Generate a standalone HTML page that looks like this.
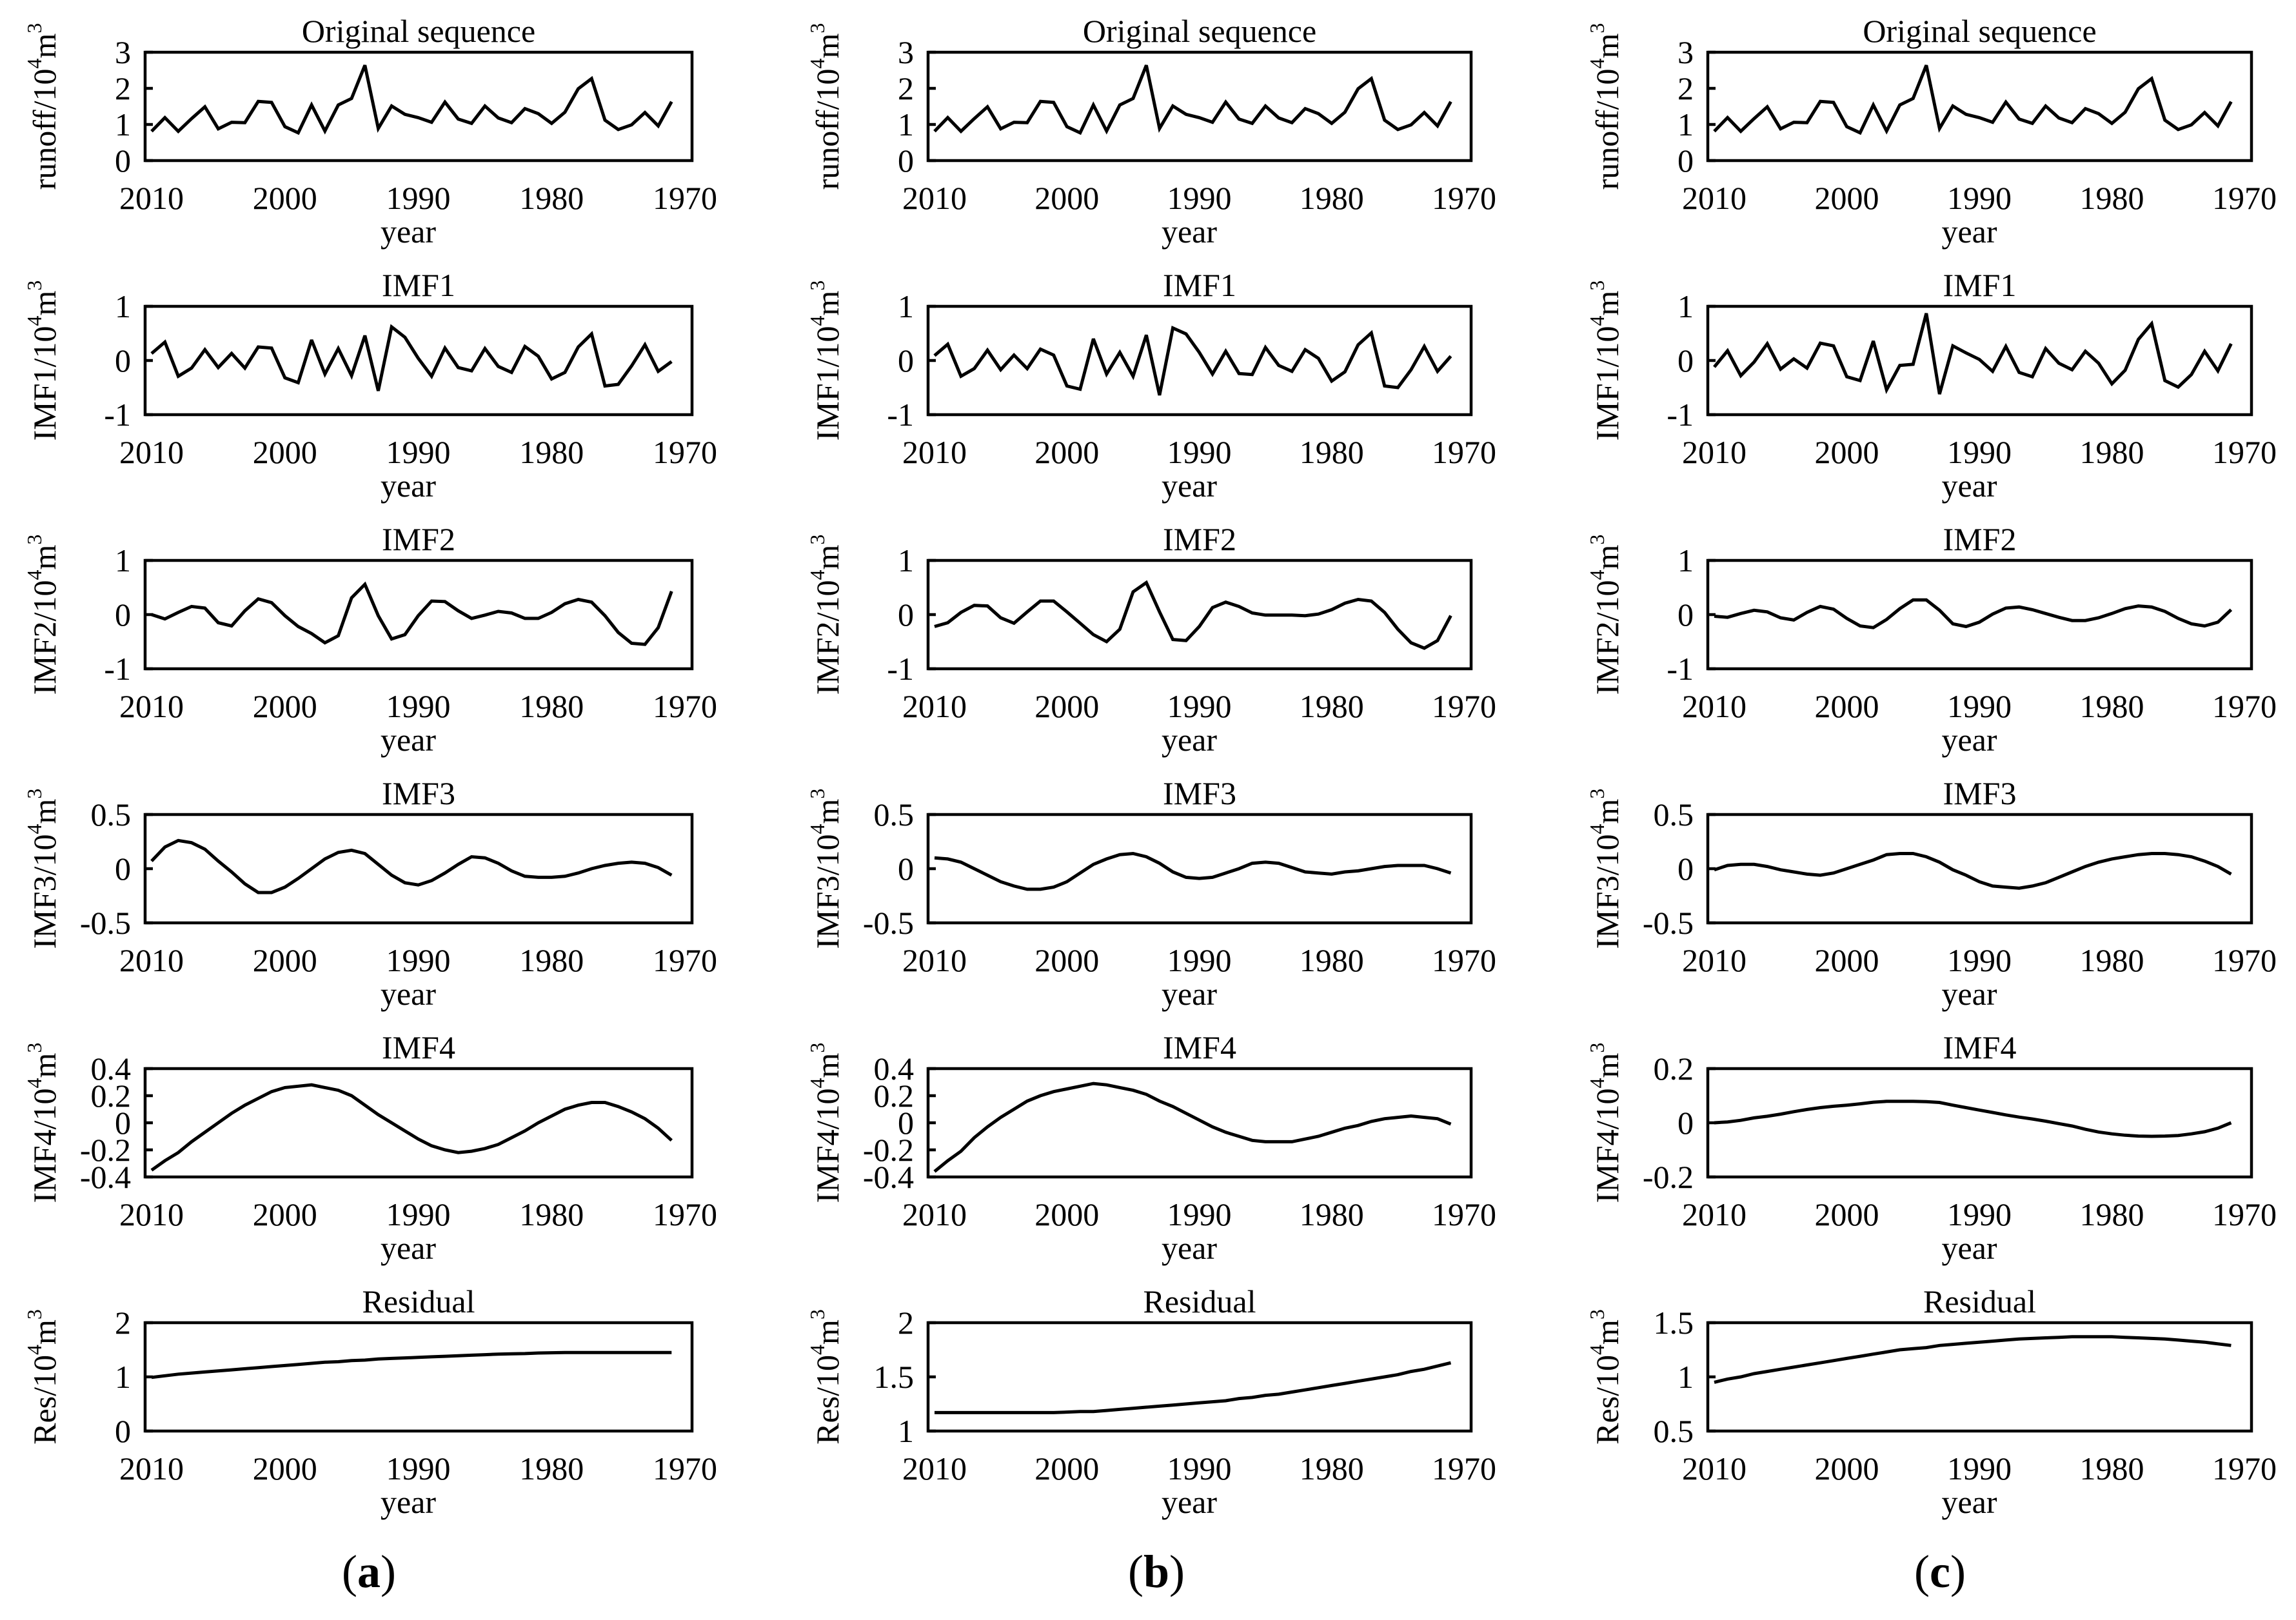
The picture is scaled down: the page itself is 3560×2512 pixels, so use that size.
<!DOCTYPE html>
<html><head><meta charset="utf-8"><title>EMD decomposition</title>
<style>
html,body{margin:0;padding:0;background:#fff;}
svg{display:block;}
svg text{font-family:"Liberation Serif","DejaVu Serif",serif;fill:#000;}
</style></head>
<body>
<svg id="fig" width="3560" height="2512" viewBox="0 0 3560 2512" xmlns="http://www.w3.org/2000/svg" font-family="Liberation Serif, serif"></svg>
<script>
const years = [];
for (let y = 2010; y >= 1971; y--) years.push(y);
const xTickLabels = ["2010","2000","1990","1980","1970"];
const panelTitles = ["Original sequence","IMF1","IMF2","IMF3","IMF4","Residual"];
const yLabelPrefixes = ["runoff","IMF1","IMF2","IMF3","IMF4","Res"];
const columnLabels = ["a","b","c"];

const original = [0.81,1.19,0.81,1.16,1.49,0.88,1.06,1.05,1.64,1.61,0.94,0.77,1.54,0.82,1.54,1.72,2.64,0.89,1.51,1.28,1.19,1.06,1.62,1.15,1.03,1.51,1.18,1.05,1.44,1.30,1.03,1.34,1.99,2.27,1.12,0.86,0.99,1.33,0.96,1.63];

const imf1A = [0.13,0.34,-0.29,-0.14,0.20,-0.13,0.13,-0.14,0.25,0.23,-0.32,-0.41,0.38,-0.25,0.22,-0.28,0.46,-0.56,0.62,0.43,0.04,-0.29,0.23,-0.13,-0.19,0.22,-0.11,-0.22,0.26,0.08,-0.34,-0.22,0.25,0.49,-0.47,-0.44,-0.10,0.29,-0.20,-0.02];
const imf2A = [0,-0.08,0.04,0.15,0.12,-0.15,-0.21,0.07,0.29,0.22,-0.02,-0.22,-0.35,-0.52,-0.39,0.31,0.56,-0.02,-0.45,-0.37,-0.02,0.25,0.24,0.07,-0.07,-0.01,0.06,0.03,-0.07,-0.07,0.04,0.20,0.28,0.23,-0.02,-0.33,-0.53,-0.55,-0.24,0.43];
const imf3A = [0.07,0.20,0.26,0.24,0.18,0.07,-0.03,-0.14,-0.22,-0.22,-0.17,-0.09,0.0,0.09,0.15,0.17,0.14,0.04,-0.06,-0.13,-0.15,-0.11,-0.04,0.04,0.11,0.10,0.05,-0.02,-0.07,-0.08,-0.08,-0.07,-0.04,0.0,0.03,0.05,0.06,0.05,0.01,-0.06];
const imf4A = [-0.35,-0.28,-0.22,-0.14,-0.07,0.0,0.07,0.13,0.18,0.23,0.26,0.27,0.28,0.26,0.24,0.20,0.13,0.06,0.0,-0.06,-0.12,-0.17,-0.20,-0.22,-0.21,-0.19,-0.16,-0.11,-0.06,0.0,0.05,0.10,0.13,0.15,0.15,0.12,0.08,0.03,-0.04,-0.13];
const resA = [0.99,1.02,1.05,1.07,1.09,1.11,1.13,1.15,1.17,1.19,1.21,1.23,1.25,1.27,1.28,1.30,1.31,1.33,1.34,1.35,1.36,1.37,1.38,1.39,1.40,1.41,1.42,1.425,1.43,1.44,1.445,1.45,1.45,1.45,1.45,1.45,1.45,1.45,1.45,1.45];

const imf1B = [0.09,0.30,-0.29,-0.15,0.19,-0.17,0.10,-0.15,0.21,0.10,-0.47,-0.53,0.40,-0.25,0.15,-0.29,0.47,-0.64,0.60,0.49,0.15,-0.25,0.17,-0.24,-0.26,0.24,-0.09,-0.20,0.20,0.04,-0.38,-0.21,0.29,0.51,-0.47,-0.50,-0.17,0.26,-0.20,0.08];
const imf2B = [-0.22,-0.15,0.04,0.17,0.16,-0.06,-0.16,0.05,0.25,0.25,0.05,-0.16,-0.37,-0.50,-0.27,0.42,0.59,0.05,-0.46,-0.48,-0.22,0.13,0.23,0.15,0.03,-0.01,-0.01,-0.01,-0.02,0.01,0.09,0.21,0.28,0.25,0.04,-0.27,-0.52,-0.62,-0.48,-0.02];
const imf3B = [0.10,0.09,0.06,0.0,-0.06,-0.12,-0.16,-0.19,-0.19,-0.17,-0.12,-0.04,0.04,0.09,0.13,0.14,0.11,0.05,-0.03,-0.08,-0.09,-0.08,-0.04,0.0,0.05,0.06,0.05,0.01,-0.03,-0.04,-0.05,-0.03,-0.02,0.0,0.02,0.03,0.03,0.03,0.0,-0.04];
const imf4B = [-0.36,-0.28,-0.21,-0.11,-0.03,0.04,0.10,0.16,0.20,0.23,0.25,0.27,0.29,0.28,0.26,0.24,0.21,0.16,0.12,0.07,0.02,-0.03,-0.07,-0.10,-0.13,-0.14,-0.14,-0.14,-0.12,-0.10,-0.07,-0.04,-0.02,0.01,0.03,0.04,0.05,0.04,0.03,-0.01];
const resB = [1.17,1.17,1.17,1.17,1.17,1.17,1.17,1.17,1.17,1.17,1.175,1.18,1.18,1.19,1.20,1.21,1.22,1.23,1.24,1.25,1.26,1.27,1.28,1.30,1.31,1.33,1.34,1.36,1.38,1.40,1.42,1.44,1.46,1.48,1.50,1.52,1.55,1.57,1.60,1.63];

const imf1C = [-0.12,0.18,-0.28,-0.03,0.31,-0.16,0.03,-0.14,0.32,0.27,-0.30,-0.37,0.36,-0.54,-0.09,-0.07,0.87,-0.62,0.27,0.14,0.02,-0.20,0.26,-0.22,-0.30,0.22,-0.05,-0.17,0.17,-0.05,-0.43,-0.18,0.39,0.68,-0.37,-0.49,-0.26,0.17,-0.19,0.31];
const imf2C = [-0.03,-0.05,0.02,0.08,0.05,-0.06,-0.10,0.04,0.15,0.10,-0.07,-0.21,-0.24,-0.09,0.11,0.27,0.27,0.08,-0.17,-0.22,-0.14,0.01,0.12,0.14,0.09,0.02,-0.05,-0.11,-0.11,-0.06,0.02,0.11,0.16,0.14,0.06,-0.07,-0.17,-0.21,-0.14,0.09];
const imf3C = [-0.01,0.03,0.04,0.04,0.02,-0.01,-0.03,-0.05,-0.06,-0.04,0.0,0.04,0.08,0.13,0.14,0.14,0.11,0.06,-0.01,-0.06,-0.12,-0.16,-0.17,-0.18,-0.16,-0.13,-0.08,-0.03,0.02,0.06,0.09,0.11,0.13,0.14,0.14,0.13,0.11,0.07,0.02,-0.05];
const imf4C = [0.0,0.003,0.009,0.018,0.024,0.032,0.041,0.049,0.056,0.061,0.065,0.07,0.076,0.079,0.079,0.079,0.078,0.075,0.065,0.056,0.047,0.038,0.029,0.021,0.014,0.006,-0.003,-0.012,-0.024,-0.034,-0.041,-0.046,-0.049,-0.05,-0.049,-0.047,-0.041,-0.033,-0.02,0.0];
const resC = [0.95,0.98,1.00,1.03,1.05,1.07,1.09,1.11,1.13,1.15,1.17,1.19,1.21,1.23,1.25,1.26,1.27,1.29,1.30,1.31,1.32,1.33,1.34,1.35,1.355,1.36,1.365,1.37,1.37,1.37,1.37,1.365,1.36,1.355,1.35,1.34,1.33,1.32,1.305,1.29];

const seriesByColumn = [
  [original, imf1A, imf2A, imf3A, imf4A, resA],
  [original, imf1B, imf2B, imf3B, imf4B, resB],
  [original, imf1C, imf2C, imf3C, imf4C, resC]
];
const yTicksByColumn = [
  [[0,1,2,3],[-1,0,1],[-1,0,1],[-0.5,0,0.5],[-0.4,-0.2,0,0.2,0.4],[0,1,2]],
  [[0,1,2,3],[-1,0,1],[-1,0,1],[-0.5,0,0.5],[-0.4,-0.2,0,0.2,0.4],[1,1.5,2]],
  [[0,1,2,3],[-1,0,1],[-1,0,1],[-0.5,0,0.5],[-0.2,0,0.2],[0.5,1,1.5]]
];

const NS = "http://www.w3.org/2000/svg";
const svg = document.getElementById("fig");
const colLeft = [225, 1439, 2648];
const colRight = [1073, 2281, 3491];
const rowTop0 = 81, rowStep = 394, boxH = 168;
const FS = 50;
const FF = '"Liberation Serif", "DejaVu Serif", serif';

function mk(tag, attrs, parent) {
  const e = document.createElementNS(NS, tag);
  for (const k in attrs) e.setAttribute(k, attrs[k]);
  if (tag === "text") e.setAttribute("font-family", FF);
  (parent || svg).appendChild(e);
  return e;
}
function fmt(v) { return String(v); }

for (let c = 0; c < 3; c++) {
  const L = colLeft[c], R = colRight[c];
  const x0 = L + 10;
  const step = (R - 11 - x0) / 40;
  const xScale = i => x0 + i * step;
  for (let r = 0; r < 6; r++) {
    const T = rowTop0 + rowStep * r, B = T + boxH;
    const ticks = yTicksByColumn[c][r];
    const yMin = ticks[0], yMax = ticks[ticks.length - 1];
    const yScale = v => B - (v - yMin) / (yMax - yMin) * (B - T);
    const g = mk("g", {});
    
    

    const title = mk("text", {x: (L + R) / 2, y: T - 33, "text-anchor": "middle", "dominant-baseline": "central", "font-size": FS}, g);
    title.textContent = panelTitles[r];
    
    

    const box = mk("rect", {x: L, y: T, width: R - L, height: B - T, fill: "none", stroke: "#000", "stroke-width": 4.5}, g);
    
    

    ticks.forEach(tv => {
      const ty = yScale(tv);
      const tk = mk("line", {x1: L, x2: L + 12, y1: ty, y2: ty, stroke: "#000", "stroke-width": 4.5}, g);
      
      
      const tl = mk("text", {x: L - 22, y: ty, "text-anchor": "end", "dominant-baseline": "central", "font-size": FS}, g);
      tl.textContent = fmt(tv);
      
      
    });

    xTickLabels.forEach((lab, k) => {
      const xl = mk("text", {x: xScale(k * 10), y: B + 58, "text-anchor": "middle", "dominant-baseline": "central", "font-size": FS}, g);
      xl.textContent = lab;
      
      
    });

    const xt = mk("text", {x: (L + R) / 2 - 16, y: B + 110, "text-anchor": "middle", "dominant-baseline": "central", "font-size": FS}, g);
    xt.textContent = "year";
    
    

    const cx = L - 156, cy = (T + B) / 2;
    const yt = mk("text", {x: 0, y: 0, "text-anchor": "middle", "dominant-baseline": "central", "font-size": FS, transform: "translate(" + cx + "," + cy + ") rotate(-90)"}, g);
    
    
    const t1 = mk("tspan", {}, yt); t1.textContent = yLabelPrefixes[r] + "/10";
    const t2 = mk("tspan", {dy: -16, "font-size": 32}, yt); t2.textContent = "4";
    const t3 = mk("tspan", {dy: 16}, yt); t3.textContent = "m";
    const t4 = mk("tspan", {dy: -16, "font-size": 32}, yt); t4.textContent = "3";

    const vals = seriesByColumn[c][r];
    const pts = vals.map((v, i) => xScale(i).toFixed(1) + "," + yScale(v).toFixed(1)).join(" ");
    const line = mk("polyline", {points: pts, fill: "none", stroke: "#000", "stroke-width": 5, "stroke-linejoin": "miter", "stroke-miterlimit": 3}, g);
    
    
  }
  const capX = [572, 1793, 3008][c];
  const cap = mk("text", {x: capX, y: 2437, "text-anchor": "middle", "dominant-baseline": "central", "font-size": 72});
  
  
  const p1 = mk("tspan", {}, cap); p1.textContent = "(";
  const p2 = mk("tspan", {"font-weight": "bold"}, cap); p2.textContent = columnLabels[c];
  const p3 = mk("tspan", {}, cap); p3.textContent = ")";
}
</script>
</body></html>
